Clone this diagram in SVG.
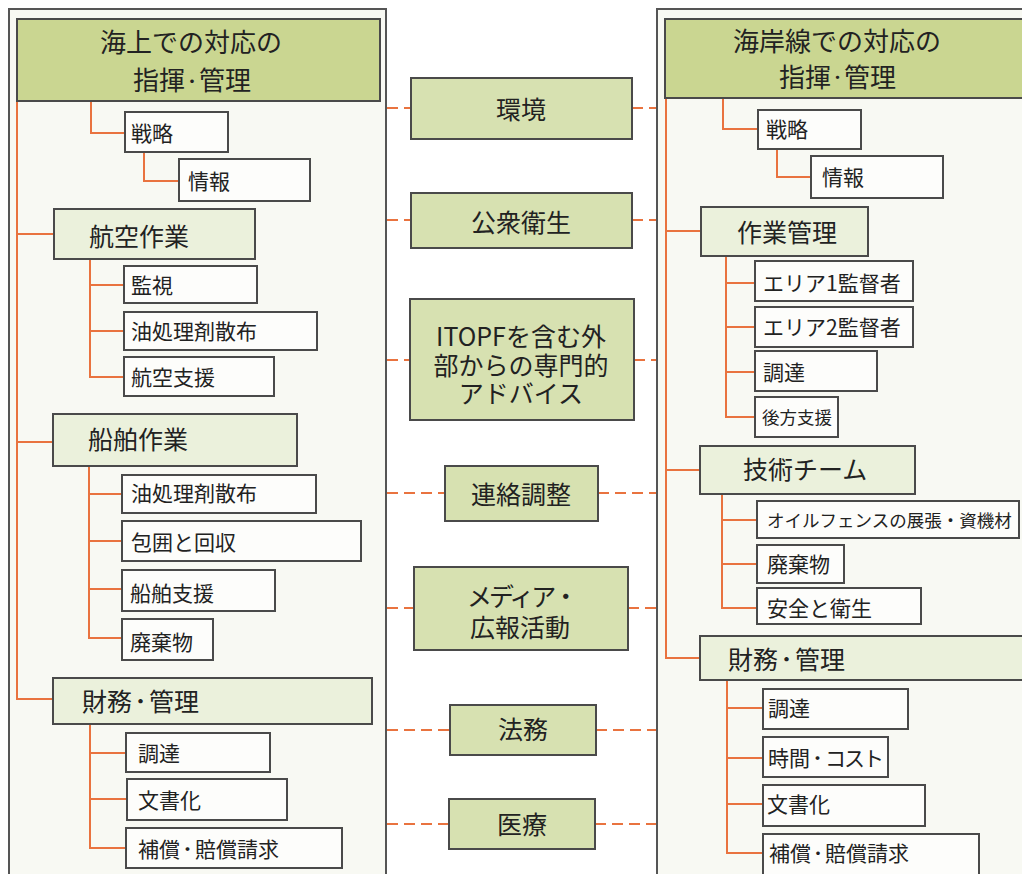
<svg xmlns="http://www.w3.org/2000/svg" width="1022" height="874" viewBox="0 0 1022 874">
<style>
text{font-family:"Noto Sans CJK JP","Noto Sans",sans-serif;fill:#222}
.panel{fill:#f8f9f3;stroke:#555;stroke-width:2}
.head{fill:#cad691;stroke:#4a4a4a;stroke-width:2}
.mid{fill:#d7e1b1;stroke:#4a4a4a;stroke-width:2}
.sub{fill:#ebf1dc;stroke:#4a4a4a;stroke-width:2}
.leaf{fill:#fdfdfb;stroke:#4a4a4a;stroke-width:2}
.t26{font-size:26px}
.t25{font-size:25px}
.t21{font-size:21px}
.t17{font-size:17.5px}
.c{text-anchor:middle}
.dot{font-weight:700}
.ln{fill:none;stroke:#e9733f;stroke-width:2}
.dash{fill:none;stroke:#e9733f;stroke-width:2;stroke-dasharray:11 6}
</style>
<rect width="1022" height="874" fill="#ffffff"/>
<g id="panel-left"><rect class="panel" x="9" y="9" width="377" height="890"/></g>
<g id="panel-right"><rect class="panel" x="657" y="9" width="400" height="890"/></g>

<g id="connectors">
<path class="ln" d="M17,101 V699 H53 M17,234 H54 M17,442 H53"/>
<path class="ln" d="M91,101 V133 H125"/>
<path class="ln" d="M144,152 V181 H179"/>
<path class="ln" d="M90,259 V377 H124 M90,285 H124 M90,331 H124"/>
<path class="ln" d="M89,466 V638 H122 M89,494 H122 M89,541 H122 M89,589 H122"/>
<path class="ln" d="M90,724 V848 H126 M90,753 H126 M90,799 H127"/>
<path class="ln" d="M666,98 V658 H700 M666,231 H701 M666,470 H700"/>
<path class="ln" d="M723,98 V129 H758"/>
<path class="ln" d="M777,149 V177 H811"/>
<path class="ln" d="M726,256 V417 H755 M726,283 H755 M726,327 H755 M726,372 H755"/>
<path class="ln" d="M722,494 V608 H757 M722,520 H757 M722,564 H757"/>
<path class="ln" d="M727,680 V853 H763 M727,708 H763 M727,758 H763 M727,804 H763"/>
<path class="dash" d="M387,108 H411 M632,108 H656"/>
<path class="dash" d="M387,220 H411 M632,220 H656"/>
<path class="dash" d="M387,360 H410 M634,360 H656"/>
<path class="dash" d="M387,493 H445 M598,493 H656"/>
<path class="dash" d="M387,608 H414 M628,608 H656"/>
<path class="dash" d="M387,730 H450 M596,730 H656"/>
<path class="dash" d="M387,824 H449 M595,824 H656"/>
</g>

<g id="left-header"><rect class="head" x="17" y="19" width="363" height="82"/>
<text class="t26 c" x="191" y="52">海上での対応の</text>
<text class="t26" x="133" y="90">指揮<tspan class="dot" font-size="14" dy="-4.5">・</tspan><tspan dy="4.5">管理</tspan></text></g>
<g id="l-senryaku"><rect class="leaf" x="125" y="112" width="103" height="40"/><text class="t21" x="131" y="141">戦略</text></g>
<g id="l-jouhou"><rect class="leaf" x="179" y="159" width="131" height="42"/><text class="t21" x="188" y="189">情報</text></g>
<g id="l-koku"><rect class="sub" x="54" y="209" width="201" height="50"/><text class="t25" x="89" y="246">航空作業</text></g>
<g id="l-kanshi"><rect class="leaf" x="124" y="266" width="133" height="37"/><text class="t21" x="131" y="293">監視</text></g>
<g id="l-yusho1"><rect class="leaf" x="124" y="312" width="193" height="38"/><text class="t21" x="131" y="339">油処理剤散布</text></g>
<g id="l-kokushien"><rect class="leaf" x="124" y="357" width="150" height="39"/><text class="t21" x="131" y="385">航空支援</text></g>
<g id="l-senpaku"><rect class="sub" x="53" y="414" width="244" height="52"/><text class="t25" x="88" y="449">船舶作業</text></g>
<g id="l-yusho2"><rect class="leaf" x="122" y="475" width="194" height="38"/><text class="t21" x="131" y="501">油処理剤散布</text></g>
<g id="l-houi"><rect class="leaf" x="122" y="521" width="239" height="40"/><text class="t21" x="131" y="550">包囲と回収</text></g>
<g id="l-senshien"><rect class="leaf" x="122" y="570" width="153" height="41"/><text class="t21" x="130" y="601">船舶支援</text></g>
<g id="l-haiki"><rect class="leaf" x="122" y="619" width="91" height="41"/><text class="t21" x="130" y="650">廃棄物</text></g>
<g id="l-zaimu"><rect class="sub" x="53" y="678" width="319" height="46"/>
<text class="t25" x="82" y="711">財務<tspan class="dot" font-size="17" dy="-3">・</tspan><tspan dy="3">管理</tspan></text></g>
<g id="l-chotatsu"><rect class="leaf" x="126" y="733" width="144" height="39"/><text class="t21" x="138" y="761">調達</text></g>
<g id="l-bunsho"><rect class="leaf" x="127" y="779" width="160" height="41"/><text class="t21" x="138" y="808">文書化</text></g>
<g id="l-hosho"><rect class="leaf" x="126" y="828" width="216" height="40"/>
<text class="t21" x="138" y="857">補償<tspan class="dot" font-size="15" dy="-2.3">・</tspan><tspan dy="2.3">賠償請求</tspan></text></g>

<g id="m-kankyo"><rect class="mid" x="411" y="78" width="221" height="61"/><text class="t25 c" x="521" y="119">環境</text></g>
<g id="m-koshu"><rect class="mid" x="411" y="193" width="221" height="55"/><text class="t25 c" x="521" y="232">公衆衛生</text></g>
<g id="m-itopf"><rect class="mid" x="410" y="299" width="224" height="121"/>
<text class="t25 c" x="521" y="346">ITOPFを含む外</text><text class="t25 c" x="521" y="375">部からの専門的</text><text class="t25 c" x="521" y="403">アドバイス</text></g>
<g id="m-renraku"><rect class="mid" x="445" y="466" width="153" height="55"/><text class="t25 c" x="521" y="504">連絡調整</text></g>
<g id="m-media"><rect class="mid" x="414" y="567" width="214" height="83"/>
<text class="t25" x="467" y="606"><tspan letter-spacing="-3">メディア</tspan>・</text>
<text class="t25 c" x="520" y="637">広報活動</text></g>
<g id="m-homu"><rect class="mid" x="450" y="705" width="146" height="50"/><text class="t25 c" x="523" y="739">法務</text></g>
<g id="m-iryo"><rect class="mid" x="449" y="799" width="146" height="50"/><text class="t25 c" x="522" y="834">医療</text></g>

<g id="right-header"><rect class="head" x="665" y="19" width="380" height="79"/>
<text class="t26 c" x="837" y="51">海岸線での対応の</text>
<text class="t26" x="779" y="87">指揮<tspan class="dot" font-size="13" dy="-5">・</tspan><tspan dy="5">管理</tspan></text></g>
<g id="r-senryaku"><rect class="leaf" x="758" y="110" width="103" height="39"/><text class="t21" x="766" y="137">戦略</text></g>
<g id="r-jouhou"><rect class="leaf" x="811" y="156" width="132" height="42"/><text class="t21" x="822" y="185">情報</text></g>
<g id="r-sagyo"><rect class="sub" x="701" y="207" width="167" height="49"/><text class="t25" x="737" y="242">作業管理</text></g>
<g id="r-area1"><rect class="leaf" x="755" y="261" width="158" height="40"/><text class="t21" x="763" y="291">エリア1監督者</text></g>
<g id="r-area2"><rect class="leaf" x="755" y="307" width="158" height="40"/><text class="t21" x="763" y="335">エリア2監督者</text></g>
<g id="r-chotatsu1"><rect class="leaf" x="755" y="351" width="122" height="40"/><text class="t21" x="763" y="380">調達</text></g>
<g id="r-kouhou"><rect class="leaf" x="755" y="397" width="83" height="40"/><text class="t17" x="762" y="424">後方支援</text></g>
<g id="r-gijutsu"><rect class="sub" x="700" y="446" width="215" height="48"/><text class="t25" x="743" y="479">技術チーム</text></g>
<g id="r-oilfence"><rect class="leaf" x="757" y="501" width="262" height="37"/><text class="t17" x="767" y="527">オイルフェンスの展張・資機材</text></g>
<g id="r-haiki"><rect class="leaf" x="757" y="545" width="87" height="38"/><text class="t21" x="767" y="572">廃棄物</text></g>
<g id="r-anzen"><rect class="leaf" x="757" y="588" width="164" height="36"/><text class="t21" x="767" y="616">安全と衛生</text></g>
<g id="r-zaimu"><rect class="sub" x="700" y="636" width="340" height="44"/>
<text class="t25" x="728" y="669">財務<tspan class="dot" font-size="17" dy="-3">・</tspan><tspan dy="3">管理</tspan></text></g>
<g id="r-chotatsu2"><rect class="leaf" x="763" y="689" width="145" height="40"/><text class="t21" x="768" y="716">調達</text></g>
<g id="r-jikan"><rect class="leaf" x="763" y="737" width="125" height="40"/>
<text class="t21" x="768" y="766">時間<tspan class="dot" font-size="15" dy="-2.3">・</tspan><tspan dy="2.3" letter-spacing="-2">コスト</tspan></text></g>
<g id="r-bunsho"><rect class="leaf" x="763" y="785" width="162" height="41"/><text class="t21" x="767" y="812">文書化</text></g>
<g id="r-hosho"><rect class="leaf" x="763" y="834" width="216" height="50"/>
<text class="t21" x="769" y="861">補償<tspan class="dot" font-size="14" dy="-2.7">・</tspan><tspan dy="2.7">賠償請求</tspan></text></g>
</svg>
